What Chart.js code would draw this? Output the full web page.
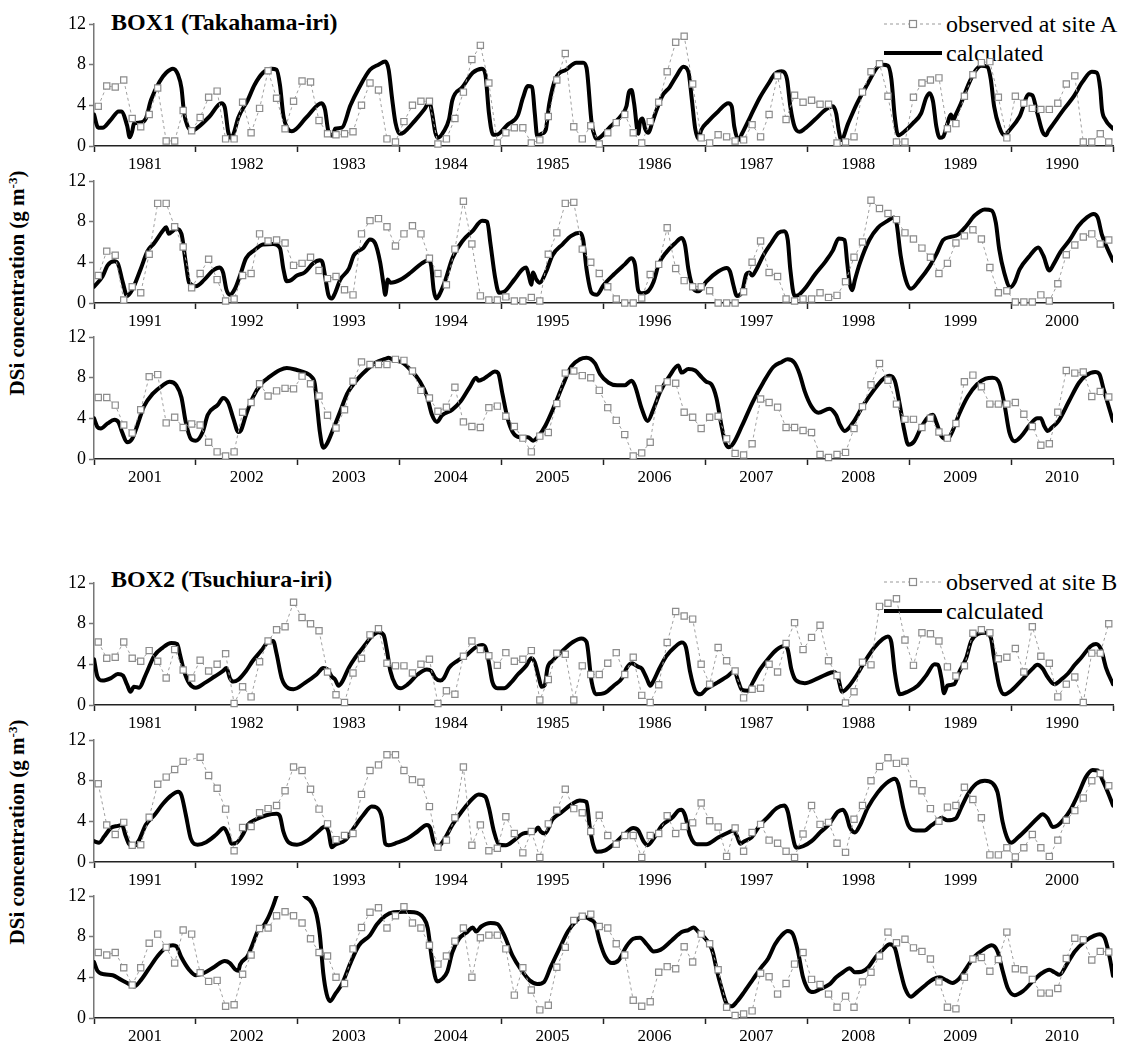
<!DOCTYPE html>
<html><head><meta charset="utf-8">
<script src="https://cdn.jsdelivr.net/npm/chart.js@4.4.1/dist/chart.umd.min.js"></script>
<style>
body{margin:0;background:#fff;width:1134px;height:1046px;position:relative;overflow:hidden;font-family:'Liberation Serif','Times New Roman',serif;color:#000;}
canvas{position:absolute;left:0;}
.title{position:absolute;left:111px;font-weight:bold;font-size:24px;line-height:1;white-space:nowrap;}
.ylab{position:absolute;width:320px;height:26px;line-height:26px;text-align:center;font-weight:bold;font-size:21px;white-space:nowrap;transform:rotate(-90deg);}
.ylab sup{font-size:13px;vertical-align:7px;line-height:0;}
.leg{position:absolute;left:884px;height:28px;display:flex;align-items:center;font-size:24px;white-space:nowrap;}
.leg svg{margin-right:4px;}
</style></head><body>
<div class="title" style="top:10px">BOX1 (Takahama-iri)</div>
<div class="title" style="top:567px">BOX2 (Tsuchiura-iri)</div>
<div class="ylab" style="left:-143px;top:270px">DSi concentration (g m<sup>-3</sup>)</div>
<div class="ylab" style="left:-143px;top:819px">DSi concentration (g m<sup>-3</sup>)</div>
<div class="leg" style="top:10px"><svg width="58" height="10"><line x1="0" y1="5" x2="58" y2="5" stroke="#999" stroke-width="1" stroke-dasharray="3,3"/><rect x="25.5" y="1.5" width="7" height="7" fill="#fff" stroke="#8c8c8c" stroke-width="1.2"/></svg><span id="legA1"></span></div>
<div class="leg" style="top:39px"><svg width="58" height="10"><line x1="0" y1="5" x2="58" y2="5" stroke="#000" stroke-width="4"/></svg><span id="legA2"></span></div>
<div class="leg" style="top:568px"><svg width="58" height="10"><line x1="0" y1="5" x2="58" y2="5" stroke="#999" stroke-width="1" stroke-dasharray="3,3"/><rect x="25.5" y="1.5" width="7" height="7" fill="#fff" stroke="#8c8c8c" stroke-width="1.2"/></svg><span id="legB1"></span></div>
<div class="leg" style="top:597px"><svg width="58" height="10"><line x1="0" y1="5" x2="58" y2="5" stroke="#000" stroke-width="4"/></svg><span id="legB2"></span></div>
<script>
// ---------- labels ----------
const legendObsA = 'observed at site A';
const legendObsB = 'observed at site B';
const legendCalc = 'calculated';
const years1980s = ['1981','1982','1983','1984','1985','1986','1987','1988','1989','1990'];
const years1990s = ['1991','1992','1993','1994','1995','1996','1997','1998','1999','2000'];
const years2000s = ['2001','2002','2003','2004','2005','2006','2007','2008','2009','2010'];
const yTickLabels = {0:'0',4:'4',8:'8',12:'12'};

// ---------- BOX1 observed (monthly, g m-3) ----------
const box1Obs1981 = [3.9,5.9,5.8,6.5,2.7,1.9,3.1,5.7,0.5,0.5,3.5,1.5, 2.8,4.8,5.4,0.7,0.7,4.3,1.3,3.7,7.4,4.7,1.7,4.4,
 6.4,6.3,2.5,1.2,1.1,1.2,1.4,4.0,6.2,5.5,0.7,0.4, 2.4,4.0,4.4,4.4,0.2,0.7,2.7,5.3,8.5,9.9,6.2,0.3,
 1.3,1.8,1.8,0.3,0.6,2.9,6.5,9.1,1.9,0.7,2.0,0.2, 1.3,2.3,3.1,1.3,0.3,2.4,4.3,7.3,10.2,10.8,6.1,0.8,
 0.3,1.1,0.9,0.5,0.6,2.1,0.9,3.1,6.9,2.6,5.0,4.3, 4.5,4.1,4.1,0.3,0.4,0.9,5.3,7.3,8.1,4.9,0.4,0.4,
 4.8,6.2,6.5,6.7,1.7,2.2,4.9,7.0,8.2,8.3,4.8,0.8, 4.9,4.2,3.7,3.6,3.6,4.2,6.1,6.9,0.4,0.4,1.2,0.4];
const box1Obs1991 = [2.7,5.1,4.7,0.3,1.6,1.0,4.8,9.8,9.8,7.5,5.5,1.5, 2.9,4.3,2.3,0.2,0.4,2.7,2.9,6.8,6.1,6.2,5.9,3.7,
 3.9,4.5,3.2,2.4,2.6,1.3,0.8,6.8,8.1,8.3,7.5,5.6, 6.8,7.6,6.8,4.4,2.9,1.8,5.3,10.0,5.8,0.7,0.3,0.3,
 0.6,0.2,0.2,0.55,0.2,4.8,6.9,9.8,9.9,5.3,4.0,2.9, 1.6,0.4,0.0,0.0,0.5,2.8,3.8,7.4,3.4,2.2,1.6,1.6,
 1.2,0.0,0.0,0.0,1.1,4.0,6.1,3.0,2.6,0.4,0.2,0.4, 0.4,1.0,0.55,0.75,2.1,4.5,6.0,10.1,9.3,8.8,8.2,6.9,
 6.3,5.4,4.5,2.9,3.9,5.9,6.6,7.2,6.3,3.5,1.0,1.2, 0.1,0.1,0.1,0.8,0.2,1.9,4.75,5.7,6.5,6.8,5.8,6.2];
const box1Obs2001 = [6.05,6.05,5.3,3.35,2.55,4.85,8.1,8.3,3.55,4.1,3.1,3.45, 3.35,1.65,0.7,0.3,0.7,4.6,5.55,7.4,6.2,6.7,6.95,6.9,
 8.15,7.4,6.2,4.3,3.05,4.85,7.65,9.55,9.3,9.3,9.3,9.8, 9.7,8.65,6.75,6.0,4.7,5.1,7.05,3.65,3.2,3.1,5.05,5.2,
 4.2,3.2,2.05,0.7,2.25,2.6,5.45,8.45,8.65,8.2,8.0,6.75, 5.05,3.8,2.4,0.3,0.6,1.65,6.9,7.6,7.45,4.6,4.1,3.0,
 4.1,4.2,2.0,0.55,0.4,1.5,5.9,5.55,5.1,3.1,3.1,2.8, 2.6,0.45,0.15,0.45,0.65,3.0,5.15,7.3,9.4,7.75,5.4,3.9,
 3.9,3.1,4.0,2.65,2.05,3.5,7.6,8.25,7.1,5.4,5.4,5.4, 5.55,4.4,3.2,1.35,1.5,4.6,8.7,8.45,8.55,6.15,6.65,6.1];

// ---------- BOX2 observed ----------
const box2Obs1981 = [6.2,4.6,4.7,6.2,4.6,4.3,5.35,4.3,2.65,5.45,3.45,2.65, 4.4,3.35,4.0,5.05,0.15,1.8,0.8,4.25,6.3,7.4,7.7,10.1,
 8.6,8.0,7.3,3.25,1.0,0.25,3.15,4.6,6.9,7.5,4.1,3.85, 3.85,3.15,4.0,4.5,0.15,1.4,1.05,4.8,6.3,5.45,4.85,3.9,
 5.15,4.3,4.5,5.35,0.5,2.5,5.1,5.0,0.5,3.85,3.0,3.0, 4.1,5.15,3.0,4.7,0.95,0.25,2.0,6.15,9.2,8.75,8.45,4.0,
 2.05,5.65,4.35,3.35,0.7,1.55,1.65,4.0,3.25,6.05,8.1,5.45, 6.65,7.85,4.35,2.9,0.2,1.3,4.2,3.95,9.7,10.0,10.45,6.4,
 3.9,7.1,7.0,6.3,3.75,2.85,3.85,7.05,7.4,7.1,4.55,4.7, 5.55,3.25,7.7,4.8,4.1,0.8,2.05,2.75,0.25,5.1,5.1,8.0];
const box2Obs1991 = [7.7,3.65,2.7,3.9,1.65,1.7,4.4,7.65,8.35,9.1,9.9,null, 10.3,8.5,7.25,5.2,1.1,3.4,3.5,4.85,5.25,5.55,7.0,9.35,
 9.0,7.15,5.2,3.75,2.2,2.6,2.8,6.65,9.0,9.55,10.55,10.55, 9.0,8.1,7.85,5.45,1.45,2.15,4.35,9.35,1.65,3.65,1.1,1.35,
 4.45,2.8,0.9,3.0,0.45,3.75,5.1,7.15,5.25,4.85,3.0,4.6, 2.6,1.75,2.6,2.6,0.45,2.6,2.8,4.55,2.8,3.5,3.85,5.8,
 4.05,3.45,0.55,3.35,1.05,2.9,3.7,2.15,1.85,1.05,0.45,2.75, 5.55,3.7,3.9,1.85,0.95,4.2,5.55,8.0,9.4,10.25,9.7,9.9,
 7.7,7.0,5.25,4.0,5.4,5.55,7.35,6.15,4.35,0.7,0.7,1.4, 0.5,1.4,2.7,1.4,0.55,2.15,4.1,5.05,6.3,8.0,8.7,7.5];
const box2Obs2001 = [6.45,6.2,6.45,4.95,3.25,4.95,7.35,8.25,6.95,5.4,8.65,8.25, 4.45,3.6,3.7,1.15,1.3,4.3,6.2,8.8,8.85,10.05,10.45,10.05,
 9.35,7.8,6.45,6.1,4.0,3.4,6.8,8.9,10.4,10.85,8.85,10.05, 10.95,9.35,8.85,7.15,5.3,6.1,7.55,8.85,4.0,7.9,8.15,8.15,
 6.8,2.25,4.95,2.75,0.8,1.25,5.0,6.95,9.6,10.0,10.2,9.0, 8.85,7.3,6.2,1.75,1.15,1.6,4.5,5.05,4.85,7.0,5.5,8.25,
 7.3,4.75,1.05,0.25,0.4,0.7,4.4,4.05,2.35,3.4,5.3,6.45, 3.8,3.3,2.35,1.05,2.15,1.05,3.55,4.5,6.1,8.45,7.4,7.75,
 6.9,6.55,5.8,3.55,1.05,0.9,4.0,5.8,5.95,4.6,5.75,8.45, 4.85,4.75,3.8,2.45,2.45,2.9,5.85,7.85,7.7,5.7,6.55,6.5];

// ---------- calculated: [month since start of decade, value] ----------
const box1Calc1981 = [[0,3.1],[0.5,1.8],[1,1.8],[2,2.6],[2.9,3.4],[3.2,3.4],[3.9,2.0],[4.2,0.85],[4.5,1.45],[4.7,2.2],[5.4,2.3],[6.1,2.7],[6.7,4.5],[7.7,6.3],[8.5,7.2],[9.3,7.6],[9.9,7.0],[10.3,5.7],[10.6,3.3],[11,2.0],[11.6,1.5],[12.2,1.8],[13.6,2.9],[15,4.2],[15.4,3.8],[15.8,1.4],[16.1,0.8],[16.4,1.1],[17,2.8],[18.1,4.5],[18.9,6.0],[19.9,7.2],[20.9,7.6],[21.5,7.5],[21.9,6.0],[22.3,3.0],[22.9,1.6],[23.3,1.45],[25,2.8],[26.8,4.2],[27.2,3.6],[27.6,1.45],[28.1,1.0],[28.4,1.7],[29.2,1.8],[30.2,4.0],[31.2,5.7],[32.5,7.5],[33.5,8.0],[34.3,8.3],[34.7,7.5],[35.1,4.7],[35.5,2.3],[36,1.2],[36.5,1.35],[37.8,2.5],[38.9,3.6],[39.5,4.3],[39.8,3.3],[40.2,1.3],[40.5,0.8],[41.2,1.45],[41.8,2.6],[42.2,4.5],[43.4,5.8],[44.6,7.2],[45.7,7.6],[46.1,7.0],[46.5,3.3],[47,1.1],[47.4,1.1],[48.7,2.1],[49.9,3.0],[50.5,4.7],[51.1,5.9],[51.6,5.8],[51.9,3.3],[52.2,0.95],[52.7,1.2],[53.2,1.6],[53.6,4.1],[54.4,6.7],[55.6,7.5],[56.8,8.2],[57.6,8.2],[58.0,7.7],[58.6,2.3],[59.0,0.9],
 [59.2,0.7],[60.8,1.9],[62.2,3.1],[62.7,3.9],[63.0,5.3],[63.3,5.5],[63.6,4.2],[64.1,1.2],[64.3,2.4],[64.6,2.7],[64.9,1.7],[65.3,1.3],[65.7,2.2],[66.1,3.2],[66.9,4.9],[67.8,5.8],[68.6,6.9],[69.4,7.8],[70.0,7.3],[70.4,4.6],[70.8,1.7],[71.2,0.7],[71.5,1.55],[72.3,2.4],[73.5,3.4],[74.7,4.2],[75.1,3.9],[75.4,1.9],[75.9,0.6],[76.3,1.2],[77.3,2.9],[78.4,4.75],[79.4,6.1],[80.2,7.1],[81.0,7.35],[81.6,6.6],[82.0,3.9],[82.5,1.9],[83.1,1.4],[83.7,1.7],[84.9,2.6],[86.2,3.6],[87.0,3.9],[87.4,3.2],[87.7,1.55],[88.0,0.6],[88.8,2.2],[89.8,4.1],[91.1,6.1],[92.3,7.8],[92.9,8.0],[93.5,7.9],[93.9,6.6],[94.3,2.9],[94.7,1.05],[95.4,1.4],[96.4,2.2],[97.4,3.2],[98.0,4.75],[98.4,5.2],[98.8,4.4],[99.2,1.9],[99.6,0.8],[100.0,0.9],[100.5,2.2],[100.9,3.1],[101.2,2.6],[101.5,3.1],[102.1,4.2],[102.9,5.9],[103.7,7.3],[104.5,7.9],[105.2,7.8],[105.6,6.6],[106.0,3.9],[106.6,1.9],[107.2,1.05],[107.8,1.55],[109.0,2.9],[110.1,5.1],[110.5,5.0],[111.1,3.2],[111.7,1.4],[112.1,1.05],[112.4,1.5],[113.0,2.2],[114.2,3.6],[115.4,4.9],[116.4,6.3],[117.5,7.3],[118.1,7.2],[118.5,5.6],[118.7,3.6],[119.1,2.6],[120,1.7]];
const box1Calc1991 = [[0,1.6],[1.0,2.6],[1.6,3.7],[2.4,4.1],[2.8,3.9],[3.4,2.0],[3.9,0.7],[4.5,1.3],[5.5,3.35],[6.3,5.1],[7.1,5.9],[8.1,7.1],[8.5,7.45],[8.8,6.8],[9.3,7.1],[9.7,7.3],[10.3,6.8],[10.8,4.0],[11.2,2.0],[12.0,1.65],[13.0,2.3],[14.0,3.2],[14.8,3.5],[15.2,3.0],[15.6,1.3],[16.0,0.8],[16.6,1.4],[17.2,2.7],[17.9,4.4],[18.9,5.2],[19.9,5.75],[21.1,5.8],[21.9,5.4],[22.3,3.35],[22.7,2.15],[23.1,2.2],[23.9,2.7],[24.8,3.0],[25.8,3.9],[26.6,4.2],[26.9,4.0],[27.2,2.7],[27.6,0.8],[28.0,0.45],[28.4,1.0],[29.0,2.3],[30.0,3.35],[30.6,4.7],[31.3,5.2],[31.7,5.4],[32.5,6.25],[33.1,5.9],[33.7,4.0],[34.1,1.8],[34.3,0.8],[34.6,2.3],[34.9,2.0],[36.1,2.3],[37.3,3.0],[38.6,3.9],[39.4,4.2],[39.7,3.7],[40.0,1.3],[40.3,0.45],[40.6,0.7],[41.4,2.3],[42.2,4.4],[43.4,6.1],[44.6,7.1],[45.7,8.1],[46.3,8.0],[46.7,5.75],[47.2,2.7],[47.7,1.0],[48.3,1.1],[49.5,2.3],[50.5,3.35],[50.9,3.5],[51.2,2.7],[51.5,1.8],[51.7,3.0],[52.1,2.3],[52.5,2.0],[53.2,3.0],[54.0,4.7],[55.2,5.8],[56.2,6.6],[57.2,6.9],[57.6,6.25],[58.0,3.35],[58.6,1.0],[59.2,0.8],
 [60,1.75],[61.2,2.8],[62.5,3.8],[63.3,4.4],[63.7,3.8],[64.1,1.2],[64.5,0.95],[65.1,1.05],[65.9,2.1],[66.5,3.8],[67.4,5.0],[68.4,5.85],[69.2,6.4],[69.6,5.7],[70.0,3.3],[70.6,1.4],[71.2,1.15],[72.1,2.1],[73.5,3.1],[74.5,3.45],[74.9,3.1],[75.3,1.75],[75.7,0.7],[76.3,1.05],[76.8,2.8],[77.2,3.0],[77.5,2.7],[78.0,3.3],[78.8,4.65],[79.8,5.95],[80.6,6.9],[81.3,7.05],[81.7,6.2],[82.0,3.3],[82.5,0.7],[83.0,0.8],[83.7,1.4],[84.9,2.8],[86.2,4.15],[87.0,5.15],[87.7,6.35],[88.4,6.2],[88.7,3.95],[89.0,1.9],[89.3,1.25],[89.6,2.25],[90.2,3.95],[91.3,6.2],[92.3,7.4],[93.4,8.05],[94.2,8.4],[94.5,7.9],[95.0,4.65],[95.6,2.25],[96.2,1.4],[97.2,2.25],[98.4,3.6],[99.2,4.8],[100.0,6.2],[100.9,6.5],[101.7,6.7],[102.7,7.55],[103.7,8.6],[104.9,9.2],[105.7,9.1],[106.2,7.9],[106.6,5.3],[107.2,2.95],[107.9,1.55],[108.4,2.0],[109.0,3.3],[110.2,4.65],[111.2,5.45],[111.8,4.65],[112.5,3.2],[113.0,3.8],[113.8,5.0],[114.9,6.2],[115.9,7.55],[116.9,8.4],[117.7,8.75],[118.2,8.4],[118.7,6.7],[120,4.15]];
const box1Calc2001 = [[0,4.0],[0.4,3.15],[0.8,3.0],[1.6,3.5],[2.4,3.85],[2.9,3.6],[3.3,2.65],[3.9,1.65],[4.5,2.0],[5.1,3.3],[5.9,5.2],[6.9,6.4],[8.1,7.25],[8.9,7.6],[9.7,7.25],[10.3,6.05],[10.8,3.65],[11.4,2.0],[12.0,1.8],[12.8,2.65],[13.4,4.35],[14.6,5.35],[15.2,6.0],[15.8,5.55],[16.4,4.0],[17.0,2.65],[17.3,2.8],[17.9,4.35],[18.7,6.05],[19.7,7.4],[20.7,8.1],[21.9,8.75],[22.7,8.95],[23.9,8.75],[25.0,8.45],[25.6,8.1],[26.0,7.4],[26.3,5.0],[26.6,2.65],[27.0,1.1],[27.4,1.45],[28.2,3.0],[29.0,4.7],[29.8,6.4],[30.6,7.4],[31.3,8.1],[32.1,8.75],[33.1,9.45],[34.3,9.85],[34.7,9.95],[35.3,9.7],[36.3,9.5],[37.3,8.75],[38.4,7.6],[39.2,6.2],[39.8,4.35],[40.4,3.65],[41.0,4.3],[42.2,4.85],[43.2,5.7],[44.3,7.15],[45.0,8.0],[45.3,7.7],[45.9,7.9],[46.5,8.25],[47.2,8.6],[47.6,8.45],[48.1,6.4],[48.7,4.0],[49.3,2.65],[50.1,2.15],[51.1,2.15],[51.7,1.8],[52.4,2.3],[53.2,3.35],[54.2,5.2],[55.2,7.25],[56.2,9.1],[57.2,9.8],[58.0,9.95],
 [59.0,9.4],[59.6,8.35],[60.6,7.5],[61.6,7.25],[62.5,7.25],[63.3,7.7],[63.7,7.2],[64.5,4.95],[65.2,3.75],[65.9,4.95],[66.7,6.65],[67.8,8.2],[68.8,9.2],[69.2,8.5],[70.0,8.85],[70.8,8.7],[71.6,8.0],[72.1,7.6],[72.7,7.35],[73.3,6.0],[73.9,3.25],[74.3,1.7],[74.7,1.15],[75.3,1.55],[76.3,3.25],[77.6,5.65],[78.8,7.5],[80.0,9.05],[81.0,9.55],[81.7,9.8],[82.5,9.45],[83.1,8.35],[83.7,6.65],[84.5,5.15],[85.3,4.55],[86.6,4.95],[87.4,4.3],[87.8,3.45],[88.4,2.75],[89.4,3.6],[90.6,5.3],[91.9,6.85],[92.9,7.85],[93.7,8.2],[94.3,7.7],[94.9,5.3],[95.4,2.9],[95.9,1.4],[96.6,1.75],[97.4,3.1],[98.2,4.1],[98.8,4.35],[99.2,3.6],[99.8,2.25],[100.5,1.95],[101.1,2.75],[101.9,4.45],[102.9,6.15],[104.0,7.35],[105.0,7.9],[105.8,8.0],[106.6,7.5],[107.2,5.45],[107.8,2.6],[108.4,1.75],[109.2,2.25],[110.2,3.35],[111.1,4.0],[111.5,4.0],[111.9,3.25],[112.3,2.75],[112.8,3.1],[113.6,3.75],[114.8,5.65],[116.0,7.5],[116.8,8.2],[117.9,8.55],[118.4,8.35],[118.9,6.85],[120,3.75]];
const box2Calc1981 = [[0,4.5],[0.4,2.8],[1.0,2.4],[2.0,2.65],[2.8,3.05],[3.4,2.9],[3.9,2.0],[4.3,1.3],[4.7,1.8],[5.3,1.7],[6.1,3.0],[7.1,4.85],[8.1,5.65],[9.1,6.1],[9.8,6.0],[10.1,5.05],[10.6,3.35],[11.2,2.15],[12.0,1.7],[13.0,2.15],[14.2,2.8],[15.2,3.35],[15.6,3.65],[16.0,2.65],[16.4,2.3],[17.0,2.5],[17.9,3.35],[18.7,4.35],[19.7,5.35],[20.5,6.2],[21.1,6.3],[21.5,5.05],[22.1,2.65],[22.9,1.65],[23.5,1.55],[24.8,2.15],[26.2,3.0],[27.0,3.65],[27.5,3.5],[28.0,2.8],[28.4,2.5],[28.8,1.9],[29.2,2.25],[30.0,3.65],[30.8,4.7],[31.9,5.9],[32.7,6.75],[33.5,7.15],[34.1,6.9],[34.5,5.35],[34.9,3.35],[35.5,2.0],[36.1,1.65],[36.9,2.0],[38.1,3.0],[39.2,3.5],[39.7,3.35],[40.2,2.65],[40.8,2.4],[41.2,2.65],[41.8,3.65],[42.8,4.35],[43.8,4.85],[44.8,5.6],[45.7,5.9],[46.1,5.65],[46.5,4.2],[46.9,2.3],[47.5,1.65],[48.3,1.65],[49.1,2.2],[49.9,3.0],[50.9,3.85],[51.5,4.6],[51.9,4.2],[52.4,2.65],[52.7,1.8],[53.1,2.0],[53.4,3.65],[54.0,4.35],[55.2,5.35],[56.4,6.2],[57.4,6.55],[58.0,6.2],[58.6,2.3],[59.1,1.05],
 [60.2,1.2],[61.2,1.9],[62.2,2.65],[62.7,3.6],[63.3,4.1],[64.1,3.75],[64.5,3.6],[65.1,2.6],[65.5,1.9],[65.9,2.4],[66.5,3.45],[67.4,4.8],[68.4,5.7],[69.2,6.15],[69.7,5.7],[70.2,3.25],[70.8,1.4],[71.4,1.05],[72.1,1.55],[73.5,2.25],[74.7,2.9],[75.4,3.35],[75.9,2.25],[76.3,1.5],[77.0,1.4],[77.6,2.25],[78.4,3.45],[79.4,4.55],[80.4,5.45],[81.3,5.8],[81.7,5.45],[82.1,3.6],[82.7,2.4],[83.7,2.15],[85.3,2.65],[86.8,3.2],[87.2,3.25],[87.6,2.75],[88.1,1.3],[88.8,1.75],[89.8,2.9],[90.9,4.45],[91.9,5.65],[92.9,6.5],[93.5,6.75],[93.9,6.15],[94.3,3.25],[94.9,1.05],[95.8,1.3],[97.0,1.9],[98.0,2.9],[99.0,4.0],[99.4,3.95],[99.8,2.6],[100.1,1.15],[100.5,1.9],[101.3,2.05],[101.9,3.25],[102.7,4.6],[103.3,6.3],[104.1,7.0],[104.9,7.1],[105.6,6.65],[106.0,4.6],[106.6,1.9],[107.2,1.05],[108.0,1.4],[109.2,2.4],[110.5,3.55],[111.1,3.95],[111.7,3.6],[112.3,2.75],[113.1,2.05],[113.9,2.5],[114.7,3.1],[115.5,3.95],[116.3,4.7],[117.4,5.8],[118.0,6.0],[118.6,5.45],[119.2,3.6],[120,2.05]];
const box2Calc1991 = [[0,2.05],[0.6,1.9],[1.2,2.5],[2.0,3.35],[2.8,3.55],[3.3,3.65],[3.7,2.65],[4.1,1.8],[4.7,1.55],[5.3,2.15],[6.1,3.65],[7.1,4.6],[8.1,5.7],[9.1,6.55],[9.9,6.9],[10.3,6.55],[10.8,4.7],[11.4,2.3],[12.2,1.7],[13.2,1.95],[14.4,2.7],[15.3,3.35],[15.8,2.65],[16.2,1.8],[16.8,1.9],[17.5,2.65],[18.1,3.65],[19.1,4.2],[20.3,4.6],[21.5,4.75],[21.9,4.5],[22.3,3.0],[22.9,1.95],[23.9,1.7],[25.2,2.15],[26.4,3.0],[27.2,3.5],[27.6,3.0],[28.0,1.45],[28.4,1.7],[29.6,2.15],[30.6,3.35],[31.7,4.6],[32.7,5.45],[33.3,5.35],[33.9,4.35],[34.3,1.8],[34.7,1.65],[35.7,1.9],[36.9,2.3],[38.1,3.0],[39.2,3.65],[39.6,3.35],[40.0,1.95],[40.4,1.45],[41.2,2.15],[42.2,3.65],[43.2,4.85],[44.2,5.9],[45.3,6.65],[46.1,6.4],[46.5,5.35],[47.1,3.0],[47.7,1.7],[48.5,1.65],[49.5,2.15],[50.5,2.8],[51.5,2.9],[51.9,3.0],[52.3,3.4],[52.6,3.0],[53.1,2.8],[54.0,4.2],[55.0,4.85],[56.2,5.65],[57.2,6.05],[58.0,5.9],[58.4,3.35],[58.8,1.65],[59.2,1.0],
 [60.2,1.15],[61.2,1.75],[62.5,2.75],[63.5,3.35],[64.1,3.1],[64.7,2.05],[65.2,1.65],[65.9,2.3],[66.9,3.6],[68.2,4.45],[68.8,5.05],[69.2,5.15],[69.6,4.6],[70.2,2.6],[71.0,1.75],[72.1,1.75],[73.5,2.4],[74.7,2.9],[75.3,3.1],[75.7,2.6],[76.1,1.8],[76.6,2.05],[77.4,2.4],[78.4,3.6],[79.4,4.45],[80.4,5.3],[81.3,5.55],[81.7,4.95],[82.1,3.25],[82.7,1.4],[83.5,1.55],[84.5,2.05],[85.5,2.9],[86.6,3.75],[87.6,4.95],[88.2,5.15],[88.6,4.6],[89.0,3.45],[89.6,2.9],[90.2,3.6],[91.1,5.3],[92.3,6.85],[93.3,7.75],[94.3,8.2],[94.7,7.7],[95.3,5.3],[95.9,3.6],[96.8,3.1],[97.8,3.1],[98.6,3.6],[99.2,3.95],[99.8,4.35],[100.5,4.1],[101.5,4.3],[102.1,5.3],[102.9,6.65],[103.9,7.7],[104.9,8.0],[105.8,7.75],[106.4,6.85],[107.0,3.95],[107.6,2.25],[108.0,1.9],[108.8,2.4],[110.1,3.45],[111.1,4.3],[111.7,4.7],[112.3,4.3],[112.9,3.45],[113.5,3.6],[114.1,4.1],[115.0,5.15],[116.0,6.85],[116.8,8.35],[117.6,9.05],[118.2,9.0],[118.8,8.0],[119.5,6.65],[120,5.55]];
const box2Calc2001 = [[0,5.5],[0.4,4.65],[1.2,4.3],[2.2,4.2],[3.0,3.85],[3.9,3.45],[4.7,3.1],[5.5,3.7],[6.5,4.9],[7.5,6.1],[8.5,6.95],[9.3,7.15],[9.7,7.05],[10.3,5.95],[11.2,4.75],[12.0,4.2],[13.0,4.45],[14.2,5.05],[15.4,5.6],[16.0,5.4],[16.6,4.8],[17.0,4.65],[17.2,5.25],[18.1,6.1],[18.7,7.3],[19.3,8.55],[19.9,9.0],[20.5,9.85],[21.1,11.05],[21.5,12.0],[22.3,13.2],[23.2,13.6],[24.0,13.0],[24.8,12.0],[25.6,11.4],[26.2,10.2],[26.6,8.15],[27.0,4.4],[27.4,2.35],[27.8,1.65],[28.4,2.35],[29.2,3.35],[30.2,5.4],[31.2,7.15],[32.5,8.15],[33.3,9.2],[34.3,10.05],[35.3,10.4],[36.5,10.45],[37.7,10.4],[38.8,9.85],[39.3,8.85],[39.8,5.75],[40.4,3.6],[41.0,3.85],[41.6,4.55],[42.2,6.45],[43.0,7.8],[44.0,8.5],[44.6,8.9],[45.0,8.5],[45.6,9.0],[46.7,9.35],[47.5,9.25],[48.3,8.15],[49.3,6.1],[50.3,4.75],[51.3,3.7],[52.2,3.35],[53.0,3.55],[53.8,5.05],[54.8,6.8],[55.8,8.5],[56.8,9.55],[57.6,10.0],[58.4,9.7],
 [59.0,9.3],[59.6,7.4],[60.2,6.05],[61.0,5.4],[61.8,5.7],[62.7,7.05],[63.5,7.8],[64.3,7.9],[65.1,7.25],[65.9,6.55],[66.7,6.7],[68.0,7.6],[69.2,8.45],[70.0,8.65],[70.6,8.9],[71.2,8.45],[71.9,7.9],[72.5,7.25],[72.9,6.4],[73.3,4.85],[73.9,2.95],[74.5,1.4],[75.1,1.15],[75.7,1.6],[76.6,2.6],[77.6,3.8],[78.6,5.0],[79.4,5.85],[80.2,7.25],[81.0,8.15],[81.7,8.55],[82.3,8.25],[82.9,6.55],[83.5,4.0],[84.1,2.8],[84.7,2.55],[85.5,2.85],[86.6,3.3],[87.4,4.0],[88.2,4.5],[89.0,4.9],[89.6,4.5],[90.4,4.55],[91.2,5.0],[92.1,6.05],[92.9,6.7],[93.7,7.25],[94.3,6.9],[94.9,4.85],[95.5,2.95],[96.2,2.1],[97.0,2.6],[98.0,3.3],[98.8,3.8],[99.6,4.0],[100.4,3.7],[101.1,3.45],[101.8,3.8],[102.7,4.85],[103.7,6.05],[104.7,6.7],[105.7,7.15],[106.4,6.55],[107.0,4.65],[107.6,2.95],[108.4,2.25],[109.4,2.65],[110.6,3.65],[111.6,4.4],[112.5,4.75],[113.1,4.5],[113.7,4.25],[114.5,5.2],[115.5,6.55],[116.8,7.6],[117.8,8.1],[118.4,8.25],[119.0,7.9],[119.5,6.4],[120,4.15]];

document.getElementById('legA1').textContent = legendObsA;
document.getElementById('legA2').textContent = legendCalc;
document.getElementById('legB1').textContent = legendObsB;
document.getElementById('legB2').textContent = legendCalc;

Chart.defaults.font.family = "'Liberation Serif','Times New Roman',serif";
Chart.defaults.color = '#000';

const PAD_T = 14, PLOT_H = 122, XAX_H = 34, AXIS_L = 94, PLOT_R = 1113, W = 1134;
const panels = [
  {top:24,  years:years1980s, obs:box1Obs1981, calc:box1Calc1981},
  {top:181, years:years1990s, obs:box1Obs1991, calc:box1Calc1991},
  {top:337, years:years2000s, obs:box1Obs2001, calc:box1Calc2001},
  {top:583, years:years1980s, obs:box2Obs1981, calc:box2Calc1981},
  {top:740, years:years1990s, obs:box2Obs1991, calc:box2Calc1991},
  {top:896, years:years2000s, obs:box2Obs2001, calc:box2Calc2001}
];

panels.forEach(p => {
  const c = document.createElement('canvas');
  c.width = W; c.height = PAD_T + PLOT_H + XAX_H;
  c.style.width = W + 'px'; c.style.height = c.height + 'px';
  c.style.top = (p.top - PAD_T) + 'px';
  document.body.appendChild(c);
  new Chart(c, {
    type: 'line',
    data: { datasets: [
      { label: 'observed',
        data: p.obs.map((v, i) => ({x: i + 0.5, y: v})),
        borderColor: '#a0a0a0', borderWidth: 1, borderDash: [3, 3], spanGaps: true,
        pointStyle: 'rect', pointRadius: 4.4, pointBorderColor: '#8c8c8c', pointBorderWidth: 1.2,
        pointBackgroundColor: '#fff', clip: false, tension: 0 },
      { label: 'calculated',
        data: p.calc.map(d => ({x: d[0], y: d[1]})),
        borderColor: '#000', borderWidth: 4, pointRadius: 0, cubicInterpolationMode: 'monotone',
        borderJoinStyle: 'round', borderCapStyle: 'round' }
    ]},
    options: {
      responsive: false, animation: false, devicePixelRatio: 1,
      layout: { padding: {top: PAD_T, left: 0, right: W - PLOT_R, bottom: 0} },
      plugins: { legend: {display: false}, tooltip: {enabled: false} },
      events: [],
      scales: {
        x: { type: 'linear', min: 0, max: 120,
          afterBuildTicks: s => { s.ticks = []; for (let k = 0; k <= 20; k++) s.ticks.push({value: k * 6}); },
          afterFit: s => { s.height = XAX_H; },
          ticks: { autoSkip: false, maxRotation: 0, minRotation: 0, padding: 2, font: {size: 17},
            callback: v => (v % 12 === 6) ? p.years[(v - 6) / 12] : '' },
          grid: { drawOnChartArea: false, drawTicks: true, tickLength: 6, tickWidth: 1.5,
            tickColor: ctx => (ctx.tick && ctx.tick.value % 12 === 0) ? '#222' : 'rgba(0,0,0,0)' },
          border: { color: '#222', width: 1.5 } },
        y: { min: 0, max: 12,
          afterFit: s => { s.width = AXIS_L; },
          ticks: { stepSize: 2, padding: 3, font: {size: 18}, callback: v => yTickLabels[v] || '' },
          grid: { drawOnChartArea: false, tickLength: 5, tickWidth: 1.5, tickColor: '#777' },
          border: { color: '#777', width: 1.5 } }
      }
    }
  });
});
</script>
</body></html>
